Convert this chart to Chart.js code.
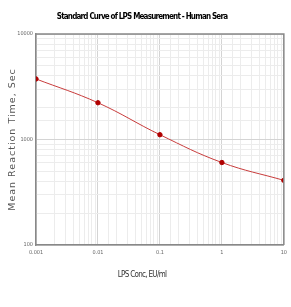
<!DOCTYPE html>
<html>
<head>
<meta charset="utf-8">
<script src="https://cdn.jsdelivr.net/npm/chart.js@4/dist/chart.umd.min.js"></script>
<style>
  html, body { margin: 0; padding: 0; background: #fff; }
  #wrap { width: 291px; height: 307px; }
</style>
</head>
<body>
<div id="wrap"><canvas id="myChart"></canvas></div>
<script>
  // LPS concentration (EU/ml) and mean reaction time (sec)
  const conc = [0.001, 0.01, 0.1, 1, 10];
  const reactionTime = [3750, 2230, 1110, 605, 410];
  const xTickValues = [0.001, 0.01, 0.1, 1, 10];
  const yTickValues = [100, 1000, 10000];

  const narrow = "'DejaVu Sans Condensed', 'Liberation Sans Narrow', sans-serif";
  const xTitle = "LPS Conc, EU/ml";
  const ctx = document.getElementById("myChart");

  const isMajor = (v) => Math.abs(Math.log10(v) - Math.round(Math.log10(v))) < 1e-6;
  const gridColor = (c) => {
    const v = c.tick ? c.tick.value : 0;
    return isMajor(v) ? "#d4d4d4" : "#ececec";
  };

  // tighten / widen letters of a text drawing method
  function withSpacing(obj, method, sp) {
    if (!obj || obj["_sp_" + method]) return;
    const orig = obj[method];
    obj[method] = function (...args) {
      const c = this.ctx;
      c.save();
      c.letterSpacing = sp;
      orig.apply(this, args);
      c.restore();
    };
    obj["_sp_" + method] = true;
  }

  const subtitleHeight = 5 + 9.6 + 27.2;

  new Chart(ctx, {
    type: "scatter",
    data: {
      datasets: [
        {
          data: conc.map((x, i) => ({ x: x, y: reactionTime[i] })),
          showLine: true,
          tension: 0.4,
          borderColor: "#c83c3c",
          borderWidth: 1,
          backgroundColor: "#b00000",
          pointBackgroundColor: "#b00000",
          pointBorderColor: "#b00000",
          pointRadius: 2.2,
        },
      ],
    },
    options: {
      responsive: true,
      maintainAspectRatio: false,
      animation: false,
      layout: { padding: { left: 0, right: 7, top: 0, bottom: 0 } },
      plugins: {
        legend: { display: false },
        tooltip: { enabled: false },
        title: {
          display: true,
          text: "Standard Curve of LPS Measurement - Human Sera",
          color: "#000",
          font: { family: narrow, size: 8, weight: "bold" },
          padding: { top: 12.2, bottom: 12.2 },
        },
        subtitle: {
          display: true,
          position: "bottom",
          text: xTitle,
          color: "#333",
          font: { family: narrow, size: 8 },
          padding: { top: 5, bottom: 27.2 },
        },
      },
      scales: {
        x: {
          type: "logarithmic",
          min: 0.001,
          max: 10,
          afterFit: (s) => { s.height = 307 - 245 - subtitleHeight; },
          grid: { color: gridColor, drawTicks: false, lineWidth: 1 },
          border: { color: "#888", width: 1.5 },
          ticks: {
            autoSkip: false,
            maxRotation: 0,
            padding: 4,
            color: "#666",
            font: { family: narrow, size: 5.5 },
            callback: (v) => (xTickValues.some((t) => Math.abs(t - v) < t * 1e-6) ? String(v) : ""),
          },
        },
        y: {
          type: "logarithmic",
          min: 100,
          max: 10000,
          afterFit: (s) => { s.width = 36; },
          grid: { color: gridColor, drawTicks: false, lineWidth: 1 },
          border: { color: "#888", width: 1.5 },
          ticks: {
            autoSkip: false,
            padding: 3,
            color: "#666",
            font: { family: narrow, size: 5.5 },
            callback: (v) => (yTickValues.includes(v) ? String(v) : ""),
          },
          title: {
            display: true,
            text: "Mean Reaction Time, Sec",
            color: "#555",
            font: { family: "'DejaVu Sans', sans-serif", size: 9.5 },
            padding: { top: 7.3, bottom: 0 },
          },
        },
      },
    },
    plugins: [
      {
        id: "letters",
        beforeDraw(chart) {
          withSpacing(chart.titleBlock, "draw", "-0.8px");
          const sub = chart.boxes.find((b) => b !== chart.titleBlock && b.options && b.options.text === xTitle);
          withSpacing(sub, "draw", "-0.7px");
          withSpacing(chart.scales.y, "drawTitle", "1px");
        },
      },
      {
        id: "frame",
        afterDraw(chart) {
          const a = chart.chartArea;
          const c = chart.ctx;
          c.save();
          c.strokeStyle = "#888";
          c.lineWidth = 1.5;
          c.beginPath();
          c.moveTo(a.left, a.top);
          c.lineTo(a.right, a.top);
          c.lineTo(a.right, a.bottom);
          c.stroke();
          c.restore();
        },
      },
    ],
  });
</script>
</body>
</html>
